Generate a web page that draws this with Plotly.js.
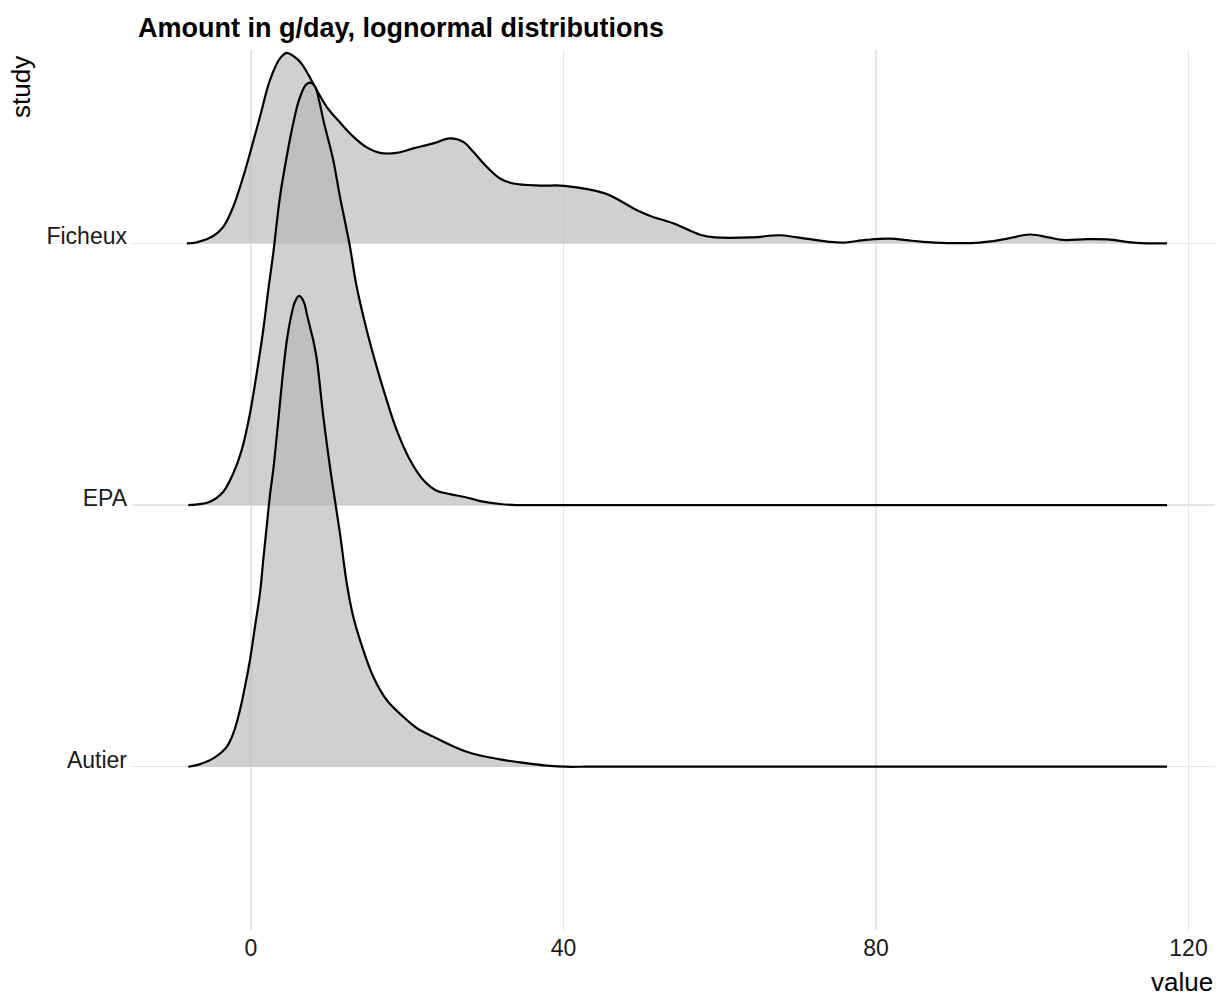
<!DOCTYPE html>
<html>
<head>
<meta charset="utf-8">
<script src="https://cdn.plot.ly/plotly-3.0.1.min.js"></script>
<style>
  html, body { margin: 0; padding: 0; background: #ffffff; }
  #chart { width: 1217px; height: 996px; }
</style>
</head>
<body>
<div id="chart"></div>
<script>
// Categories (bottom to top on the y axis)
const studies = ['Autier', 'EPA', 'Ficheux'];

// Scaled density heights (in ridge units)
const ficheuxX = [-8.2, -6.95, -4.83, -3.55, -2.27, -0.99, -0.13, 1.15, 2.43, 3.71, 4.57, 5.41, 6.27, 7.13, 8.41, 9.69, 11.39, 13.09, 14.81, 16.51, 18.65, 20.77, 23.33, 25.47, 27.17, 28.45, 30.17, 31.87, 33.57, 37.0, 40.1, 45.3, 49.4, 51.2, 54.1, 57.6, 59.4, 64.1, 67.6, 69.9, 74.0, 75.8, 78.7, 81.7, 84.6, 87.5, 93.3, 96.3, 99.7, 102.1, 103.9, 107.0, 109.6, 113.4, 117.25];
const ficheuxH = [0, 0.004, 0.028, 0.063, 0.140, 0.255, 0.344, 0.484, 0.624, 0.707, 0.728, 0.716, 0.694, 0.656, 0.586, 0.522, 0.462, 0.408, 0.367, 0.346, 0.346, 0.363, 0.382, 0.401, 0.388, 0.350, 0.293, 0.248, 0.229, 0.221, 0.220, 0.191, 0.127, 0.104, 0.076, 0.032, 0.023, 0.023, 0.031, 0.023, 0.006, 0.003, 0.013, 0.018, 0.010, 0.003, 0.003, 0.015, 0.034, 0.023, 0.013, 0.016, 0.015, 0.002, 0];

const epaX = [-8.03, -5.25, -3.55, -2.27, -1.19, -0.13, 0.73, 1.57, 2.21, 2.85, 3.71, 4.57, 5.41, 6.15, 7.0, 7.55, 8.19, 8.7, 9.35, 10.53, 11.39, 12.25, 12.67, 13.53, 14.81, 16.09, 17.37, 18.65, 20.35, 22.05, 23.77, 25.47, 27.61, 29.73, 31.87, 34.0, 37.0, 42.0, 117.25];
const epaH = [0, 0.013, 0.051, 0.121, 0.210, 0.350, 0.503, 0.669, 0.821, 0.962, 1.178, 1.331, 1.459, 1.548, 1.605, 1.614, 1.600, 1.548, 1.460, 1.318, 1.178, 1.051, 0.987, 0.834, 0.669, 0.528, 0.401, 0.286, 0.172, 0.096, 0.055, 0.042, 0.029, 0.013, 0.004, 0, 0, 0, 0];

const autierX = [-8.03, -6.53, -4.83, -3.11, -2.27, -1.41, -0.77, -0.13, 0.51, 1.15, 1.57, 2.01, 2.43, 2.85, 3.29, 3.71, 4.13, 4.57, 4.99, 5.63, 6.18, 6.78, 7.13, 7.55, 7.97, 8.41, 9.25, 10.33, 11.39, 12.25, 13.09, 14.37, 15.65, 17.37, 19.49, 21.21, 23.33, 27.61, 31.87, 36.13, 38.27, 40.2, 43.0, 48.0, 117.25];
const autierH = [0, 0.010, 0.032, 0.076, 0.127, 0.217, 0.306, 0.408, 0.535, 0.663, 0.790, 0.917, 1.038, 1.134, 1.261, 1.390, 1.516, 1.625, 1.700, 1.777, 1.799, 1.775, 1.733, 1.680, 1.630, 1.560, 1.340, 1.100, 0.892, 0.702, 0.573, 0.446, 0.344, 0.255, 0.191, 0.148, 0.115, 0.057, 0.028, 0.010, 0.003, 0, 0, 0, 0];

const xTicks = [0, 40, 80, 120];
const xTickLabels = ['0', '40', '80', '120'];

const titleText = 'Amount in g/day, lognormal distributions';
const xTitle = 'value';
const yTitle = 'study';

// Ridges drawn back (top) to front (bottom)
const ridges = [
  { name: 'Ficheux', x: ficheuxX, h: ficheuxH },
  { name: 'EPA', x: epaX, h: epaH },
  { name: 'Autier', x: autierX, h: autierH }
];

const FONT = 'Liberation Sans, Arial, Helvetica, sans-serif';

const traces = ridges.map(r => {
  const base = studies.indexOf(r.name) + 1;
  return {
    type: 'scatter',
    mode: 'lines',
    x: r.x,
    y: r.h.map(v => base + v),
    fill: 'toself',
    fillcolor: 'rgba(179,179,179,0.62)',
    line: { color: '#000000', width: 2.2, shape: 'spline', smoothing: 1 },
    hoverinfo: 'skip',
    showlegend: false
  };
});

const layout = {
  width: 1217,
  height: 996,
  margin: { l: 132, r: 2, t: 50, b: 66 },
  paper_bgcolor: '#ffffff',
  plot_bgcolor: '#ffffff',
  showlegend: false,
  font: { family: FONT, color: '#1a1a1a' },
  title: {
    text: titleText,
    font: { family: FONT, size: 27, weight: 'bold', color: '#000000' },
    xref: 'container', x: 138 / 1217, xanchor: 'left',
    yref: 'container', y: 1 - 28 / 996, yanchor: 'middle'
  },
  xaxis: {
    range: [-15.23, 123.39],
    tickvals: xTicks,
    ticktext: xTickLabels,
    showgrid: true,
    gridcolor: '#e6e6e6',
    gridwidth: 1.3,
    zeroline: false,
    showline: false,
    ticks: '',
    ticklabelstandoff: 2,
    tickfont: { family: FONT, size: 23, color: '#1a1a1a' }
  },
  yaxis: {
    range: [0.376, 3.739],
    tickvals: [1, 2, 3],
    ticktext: studies,
    showgrid: true,
    gridcolor: '#e6e6e6',
    gridwidth: 1.3,
    zeroline: false,
    showline: false,
    ticks: '',
    ticklabelstandoff: 4,
    ticklabelshift: -7,
    tickfont: { family: FONT, size: 23, color: '#1a1a1a' }
  },
  annotations: [
    {
      text: xTitle, xref: 'paper', yref: 'paper',
      x: 1, xanchor: 'right', y: (930 - 982) / 880, yanchor: 'middle',
      showarrow: false, font: { family: FONT, size: 26, color: '#000000' }
    },
    {
      text: yTitle, xref: 'paper', yref: 'paper',
      x: (21 - 132) / 1083, xanchor: 'center', y: (930 - 87) / 880, yanchor: 'middle',
      textangle: -90,
      showarrow: false, font: { family: FONT, size: 26, color: '#000000' }
    }
  ]
};

Plotly.newPlot('chart', traces, layout, { staticPlot: true, displayModeBar: false });
</script>
</body>
</html>
